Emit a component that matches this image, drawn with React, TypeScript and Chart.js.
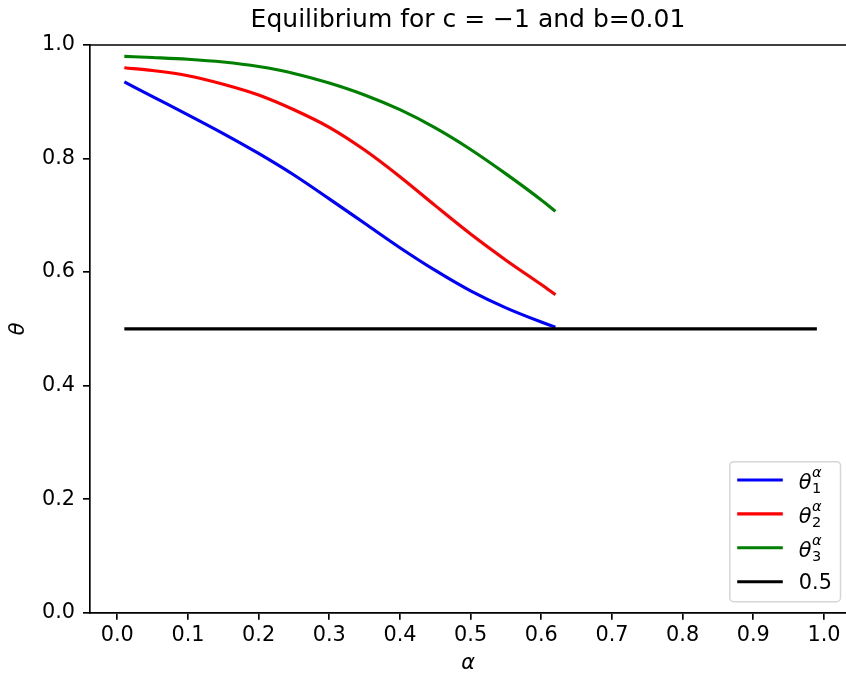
import { useEffect, useRef } from 'react';
import { Chart, registerables } from 'chart.js';

Chart.register(...registerables);

// ---- data ----
const alphaValues = [0.01, 0.05, 0.1, 0.15, 0.2, 0.25, 0.3, 0.35, 0.4, 0.45, 0.5, 0.55, 0.6, 0.62];
const theta1 = [0.935, 0.909, 0.877, 0.844, 0.809, 0.771, 0.729, 0.686, 0.643, 0.603, 0.567, 0.537, 0.512, 0.503];
const theta2 = [0.96, 0.955, 0.946, 0.931, 0.912, 0.886, 0.855, 0.815, 0.768, 0.717, 0.667, 0.621, 0.578, 0.56];
const theta3 = [0.98, 0.978, 0.975, 0.97, 0.962, 0.95, 0.933, 0.912, 0.886, 0.854, 0.816, 0.773, 0.727, 0.707];
const refAlpha = [0.01, 0.99];
const refValue = [0.5, 0.5];

const xTicks = [0, 0.1, 0.2, 0.3, 0.4, 0.5, 0.6, 0.7, 0.8, 0.9, 1.0];
const yTicks = [0, 0.2, 0.4, 0.6, 0.8, 1.0];

const seriesBase = 'θ';
const seriesSubs = ['1', '2', '3'];
const seriesSup = 'α';
const refLabel = '0.5';
const chartTitle = 'Equilibrium for c = −1 and b=0.01';
const xTitle = 'α';
const yTitle = 'θ';

const FONT = "'DejaVu Sans', sans-serif";
const FS = 20.8;

const toPoints = (xs: number[], ys: number[]) => xs.map((x, i) => ({ x, y: ys[i] }));

const topSpinePlugin = {
  id: 'topSpine',
  afterDraw(chart: any) {
    const { ctx, chartArea } = chart;
    ctx.save();
    ctx.strokeStyle = '#000';
    ctx.lineWidth = 1.67;
    ctx.beginPath();
    ctx.moveTo(chartArea.left - 0.8, chartArea.top);
    ctx.lineTo(chartArea.right, chartArea.top);
    ctx.stroke();
    ctx.restore();
  },
};

const legendPlugin = {
  id: 'mplLegend',
  afterDraw(chart: any) {
    const { ctx, chartArea } = chart;
    const w = 110.7;
    const h = 140;
    const right = chartArea.right - 5.5;
    const bottom = chartArea.bottom - 11;
    const left = right - w;
    const top = bottom - h;
    const r = 4;
    ctx.save();
    ctx.beginPath();
    ctx.moveTo(left + r, top);
    ctx.lineTo(right - r, top);
    ctx.arcTo(right, top, right, top + r, r);
    ctx.lineTo(right, bottom - r);
    ctx.arcTo(right, bottom, right - r, bottom, r);
    ctx.lineTo(left + r, bottom);
    ctx.arcTo(left, bottom, left, bottom - r, r);
    ctx.lineTo(left, top + r);
    ctx.arcTo(left, top, left + r, top, r);
    ctx.closePath();
    ctx.fillStyle = 'rgba(255,255,255,0.8)';
    ctx.fill();
    ctx.strokeStyle = 'rgba(204,204,204,0.8)';
    ctx.lineWidth = 1.5;
    ctx.stroke();

    chart.data.datasets.forEach((ds: any, i: number) => {
      const cy = top + 18.3 + i * 33.9;
      ctx.strokeStyle = ds.borderColor;
      ctx.lineWidth = 3.1;
      ctx.lineCap = 'butt';
      ctx.beginPath();
      ctx.moveTo(left + 7.4, cy);
      ctx.lineTo(left + 53, cy);
      ctx.stroke();

      const tx = left + 69;
      ctx.fillStyle = '#000';
      ctx.textAlign = 'left';
      ctx.textBaseline = 'alphabetic';
      if (ds.legendSub) {
        ctx.font = `italic ${FS}px ${FONT}`;
        ctx.fillText(seriesBase, tx, cy + 9);
        const bw = ctx.measureText(seriesBase).width;
        ctx.font = `${FS * 0.7}px ${FONT}`;
        ctx.fillText(ds.legendSub, tx + bw + 0.5, cy + 13);
        ctx.font = `italic ${FS * 0.7}px ${FONT}`;
        ctx.fillText(seriesSup, tx + bw + 0.5, cy - 3);
      } else {
        ctx.font = `${FS}px ${FONT}`;
        ctx.fillText(ds.label, tx, cy + 7.5);
      }
    });
    ctx.restore();
  },
};

export default function App() {
  const ref = useRef<HTMLCanvasElement>(null);

  useEffect(() => {
    if (!ref.current) return;
    const colors = ['#0000ff', '#ff0000', '#008000'];
    const series = [theta1, theta2, theta3];
    const datasets: any[] = series.map((s, i) => ({
      label: `${seriesBase}_${seriesSubs[i]}^${seriesSup}`,
      legendSub: seriesSubs[i],
      data: toPoints(alphaValues, s),
      borderColor: colors[i],
      backgroundColor: colors[i],
      borderWidth: 3.1,
      pointRadius: 0,
      cubicInterpolationMode: 'monotone',
      fill: false,
      order: 3 - i,
    }));
    datasets.push({
      label: refLabel,
      data: toPoints(refAlpha, refValue),
      borderColor: '#000000',
      backgroundColor: '#000000',
      borderWidth: 3.1,
      pointRadius: 0,
      fill: false,
      order: 0,
    });

    const chart = new Chart(ref.current, {
      type: 'line',
      data: { datasets },
      plugins: [topSpinePlugin, legendPlugin],
      options: {
        animation: false,
        responsive: false,
        devicePixelRatio: 1,
        layout: { padding: 0 },
        plugins: {
          legend: { display: false },
          tooltip: { enabled: false },
          title: {
            display: true,
            text: chartTitle,
            fullSize: false,
            color: '#000',
            font: { family: FONT, size: 25, weight: 'normal' },
            padding: { top: 5, bottom: 10 },
          },
        },
        scales: {
          x: {
            type: 'linear',
            min: -0.0386,
            max: 1.0312,
            afterBuildTicks: (scale: any) => {
              scale.ticks = xTicks.map((v) => ({ value: v }));
            },
            afterFit: (scale: any) => {
              scale.height = 65.3;
            },
            ticks: {
              autoSkip: false,
              maxRotation: 0,
              color: '#000',
              padding: 3,
              font: { family: FONT, size: FS },
              callback: (v: any) => Number(v).toFixed(1),
            },
            grid: {
              drawOnChartArea: false,
              drawTicks: true,
              tickLength: 7,
              color: '#000',
              lineWidth: 1.67,
            },
            border: { display: true, color: '#000', width: 1.67 },
            title: {
              display: true,
              text: xTitle,
              color: '#000',
              font: { family: FONT, size: FS, style: 'italic' },
              padding: { top: 0, bottom: 2 },
            },
          },
          y: {
            type: 'linear',
            min: 0,
            max: 1,
            afterBuildTicks: (scale: any) => {
              scale.ticks = yTicks.map((v) => ({ value: v }));
            },
            afterFit: (scale: any) => {
              scale.width = 90;
            },
            ticks: {
              color: '#000',
              padding: 8,
              font: { family: FONT, size: FS },
              callback: (v: any) => Number(v).toFixed(1),
            },
            grid: {
              drawOnChartArea: false,
              drawTicks: true,
              tickLength: 7,
              color: '#000',
              lineWidth: 1.67,
            },
            border: { display: true, color: '#000', width: 1.67 },
            title: {
              display: true,
              text: yTitle,
              color: '#000',
              font: { family: FONT, size: FS, style: 'italic' },
              padding: { top: 6, bottom: 0 },
            },
          },
        },
      } as any,
    });
    return () => chart.destroy();
  }, []);

  return (
    <div style={{ position: 'fixed', left: 0, top: 0, width: 846, height: 678, background: '#fff' }}>
      <canvas ref={ref} width={846} height={678} style={{ display: 'block' }} />
    </div>
  );
}
